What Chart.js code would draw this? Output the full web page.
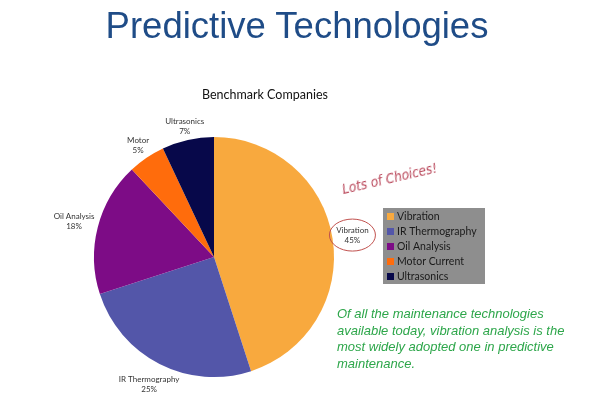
<!DOCTYPE html>
<html>
<head>
<meta charset="utf-8">
<script src="https://cdn.jsdelivr.net/npm/chart.js@4"></script>
<style>
  html, body { margin: 0; padding: 0; background: #fff; }
  #wrap { position: relative; width: 590px; height: 393px; overflow: hidden; font-family: "Liberation Sans", Arial, sans-serif; }
  #c { position: absolute; left: 0; top: 0; }
  .title { position: absolute; left: 0; width: 594px; top: 5px; text-align: center; font-size: 36.5px; color: #1F4C87; }
  .sub { position: absolute; left: 202px; top: 87px; font-family: Lato, sans-serif; font-size: 12.5px; color: #111; }
  .lots { position: absolute; left: 344px; top: 181px; font-family: "DejaVu Sans Condensed", "DejaVu Sans", sans-serif; font-style: italic; font-size: 13.5px; color: #B9475A; transform: rotate(-13deg); transform-origin: left bottom; white-space: nowrap; }
  .note { position: absolute; left: 337px; top: 306px; font-style: italic; font-size: 13px; line-height: 16.5px; color: #2DA64A; white-space: nowrap; }
</style>
</head>
<body>
<div id="wrap">
  <canvas id="c" width="590" height="393"></canvas>
  <div class="title">Predictive Technologies</div>
  <div class="sub">Benchmark Companies</div>
  <div class="lots">Lots of Choices!</div>
  <div class="note">Of all the maintenance technologies<br>available today, vibration analysis is the<br>most widely adopted one in predictive<br>maintenance.</div>
</div>
<script>
const labels = ['Vibration', 'IR Thermography', 'Oil Analysis', 'Motor Current', 'Ultrasonics'];
const sliceLabels = ['Vibration', 'IR Thermography', 'Oil Analysis', 'Motor', 'Ultrasonics'];
const values = [45, 25, 18, 5, 7];
const colors = ['#F8A93E', '#5356A9', '#7D0C86', '#FF6C0C', '#07084A'];

// data labels outside the slices, like the Excel ones
const sliceLabelPlugin = {
  id: 'sliceLabels',
  afterDatasetsDraw(chart) {
    const ctx = chart.ctx;
    const meta = chart.getDatasetMeta(0);
    ctx.save();
    ctx.font = '8px Lato, sans-serif';
    ctx.fillStyle = '#333';
    ctx.textAlign = 'center';
    ctx.textBaseline = 'middle';
    meta.data.forEach((arc, i) => {
      const p = arc.getProps(['x', 'y', 'startAngle', 'endAngle', 'outerRadius'], true);
      const mid = (p.startAngle + p.endAngle) / 2;
      const cx = Math.cos(mid), cy = Math.sin(mid);
      const hw = ctx.measureText(sliceLabels[i]).width / 2;
      const hh = 7;
      const d = p.outerRadius + hw * Math.abs(cx) + hh * Math.abs(cy) + 3;
      const x = p.x + cx * d, y = p.y + cy * d;
      ctx.fillText(sliceLabels[i], x, y - 4.5);
      ctx.fillText(values[i] + '%', x, y + 5);
      if (i === 0) {
        ctx.beginPath();
        ctx.strokeStyle = '#C0504D';
        ctx.lineWidth = 1;
        ctx.ellipse(x, y, 23, 16, 0, 0, Math.PI * 2);
        ctx.stroke();
      }
    });
    ctx.restore();
  }
};

// grey legend box on the right
const boxLegendPlugin = {
  id: 'boxLegend',
  afterDraw(chart) {
    const ctx = chart.ctx;
    const x0 = 383, y0 = 208, w = 102, h = 76;
    ctx.save();
    ctx.fillStyle = '#8E8E8E';
    ctx.fillRect(x0, y0, w, h);
    ctx.font = '10.5px Lato, sans-serif';
    ctx.textBaseline = 'middle';
    labels.forEach((lab, i) => {
      const y = y0 + 9 + i * 15;
      ctx.fillStyle = colors[i];
      ctx.fillRect(x0 + 4, y - 4, 7, 7);
      ctx.fillStyle = '#1a1a1a';
      ctx.fillText(lab, x0 + 14, y);
    });
    ctx.restore();
  }
};

new Chart(document.getElementById('c'), {
  type: 'pie',
  data: {
    labels: labels,
    datasets: [{
      data: values,
      backgroundColor: colors,
      borderWidth: 0
    }]
  },
  options: {
    responsive: false,
    animation: false,
    layout: { padding: { left: 94, top: 137, right: 256, bottom: 16 } },
    plugins: {
      legend: { display: false },
      tooltip: { enabled: false }
    }
  },
  plugins: [sliceLabelPlugin, boxLegendPlugin]
});
</script>
</body>
</html>
